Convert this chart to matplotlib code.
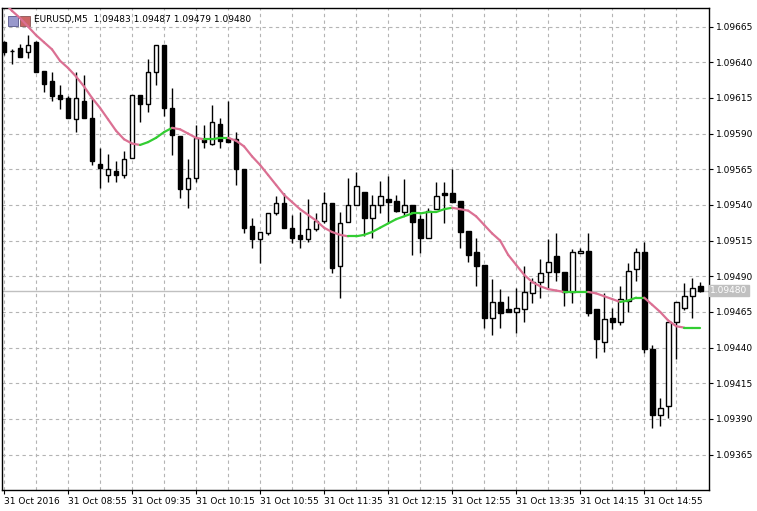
import matplotlib
matplotlib.use("Agg")
import matplotlib.pyplot as plt
import numpy as np

# prices in units of 1e-5 above 1.09000
opens  = [654,648,650,647,654,634,627,617,615,600,613,601,569,561,564,561,573,617,611,633,652,608,588,
          551,559,586,583,597,587,586,565,525,516,520,534,541,524,519,516,523,529,541,497,528,540,549,531,
          540,544,543,535,540,530,517,537,548,548,543,522,507,498,461,472,467,465,467,478,486,493,504,493,
          479,506,508,467,444,461,458,473,495,507,439,393,399,458,468,476,483]
highs  = [655,649,653,659,655,634,633,624,616,633,631,615,580,576,571,578,617,617,642,652,652,622,588,
          572,596,596,610,601,613,591,565,531,521,534,546,548,533,535,544,534,549,541,535,559,563,549,547,
          557,560,547,558,540,533,538,556,556,565,543,522,517,498,488,481,476,482,497,489,502,516,520,493,
          509,510,520,467,478,468,483,499,510,514,442,405,458,472,485,489,486]
lows   = [645,639,644,643,633,619,613,607,601,591,601,568,552,556,556,559,573,598,605,624,602,575,545,
          538,556,580,582,580,584,554,520,510,499,519,533,524,513,510,514,522,527,492,475,528,540,518,517,
          534,528,535,533,505,506,517,537,527,542,510,500,483,454,449,454,465,450,458,471,475,482,487,469,
          471,506,462,433,437,453,456,465,487,436,384,385,391,432,466,461,479]
closes = [647,648,644,652,633,625,616,614,601,615,601,571,566,565,561,572,617,611,633,652,608,589,551,
          559,587,584,598,585,584,565,524,516,521,534,541,524,517,516,523,529,541,496,527,540,553,531,540,
          546,542,536,540,528,517,536,546,547,542,521,505,497,461,472,464,465,468,479,486,492,500,493,479,
          507,508,464,446,460,458,474,494,507,439,393,398,458,472,476,482,480]
ma     = [682,676,671,665,659,654,649,641,636,630,623,615,608,600,592,586,583,582,584,587,591,594,593,
          590,587,586,586,587,587,585,581,574,568,561,554,547,542,537,533,529,524,521,519,518,518,519,521,
          524,527,530,532,534,534,535,535,537,538,537,536,532,526,520,515,505,498,491,486,483,481,480,479,
          479,479,479,478,476,474,472,473,475,475,470,465,459,455,454,454,454]

start_h, start_m = 8, 15
tick_prices = [1.09365 + 0.00025 * i for i in range(13)]

def P(v):
    return 1.09 + np.asarray(v) * 1e-5

O, H, L, C, M = P(opens), P(highs), P(lows), P(closes), P(ma)
n = len(O)
x = np.arange(n)

fig = plt.figure(figsize=(7.57, 5.11), dpi=100)
ax = fig.add_axes([2/757, 21/511, 707/757, 482/511])
ax.set_facecolor("white")

for i in range(n):
    ax.vlines(x[i], L[i], H[i], color="black", lw=1, zorder=3)
    lo, hi = min(O[i], C[i]), max(O[i], C[i])
    face = "white" if C[i] >= O[i] else "black"
    ax.add_patch(plt.Rectangle((x[i] - 0.3, lo), 0.6, max(hi - lo, 0.2e-5),
                               facecolor=face, edgecolor="black", lw=1, zorder=4))

for i in range(n - 1):
    col = "#32CD32" if M[i + 1] >= M[i] else "#DB7093"
    ax.plot(x[i:i + 2], M[i:i + 2], color=col, lw=1.6, zorder=5, solid_capstyle="round")

last = C[-1]
ax.axhline(last, color="#C0C0C0", lw=1, zorder=2)

ax.set_xlim(-0.25, 88.1)
ax.set_ylim(1.093402, 1.09678)
ax.yaxis.tick_right()
ax.set_yticks(tick_prices)
ax.set_yticklabels([f"{p:.5f}" for p in tick_prices], fontsize=6.5)
xt = list(range(0, n, 8))
labels = []
for k in xt:
    if k == 0:
        labels.append("31 Oct 2016")
    else:
        t = start_h * 60 + start_m + 5 * k
        labels.append(f"31 Oct {t // 60:02d}:{t % 60:02d}")
ax.set_xticks(xt)
ax.set_xticklabels(labels, fontsize=6.5, ha="left")
ax.set_xticks(range(4, n, 8), minor=True)
ax.tick_params(axis="both", length=3, width=0.8, color="black", pad=2)
ax.tick_params(axis="x", which="minor", length=0)
ax.grid(True, which="both", axis="x", color="#B4B4B4", ls=(0, (3, 3)), lw=0.8)
ax.grid(True, which="major", axis="y", color="#B4B4B4", ls=(0, (3, 3)), lw=0.8)
ax.set_axisbelow(True)
for s in ax.spines.values():
    s.set_color("black")
    s.set_linewidth(1)

ax.text(1.002, (last - 1.093402) / (1.09678 - 1.093402), f"{last:.5f}", transform=ax.transAxes,
        fontsize=6.5, color="white", va="center", ha="left",
        bbox=dict(facecolor="#C0C0C0", edgecolor="#C0C0C0", pad=1))
ax.text(0.045, 0.985, "EURUSD,M5  1.09483 1.09487 1.09479 1.09480", transform=ax.transAxes,
        fontsize=6.5, va="top", ha="left")
ax.add_patch(plt.Rectangle((0.008, 0.962), 0.014, 0.022, transform=ax.transAxes,
                           facecolor="#9999CC", edgecolor="#555588", lw=0.6))
ax.add_patch(plt.Rectangle((0.025, 0.962), 0.014, 0.022, transform=ax.transAxes,
                           facecolor="#CC6666", edgecolor="#885555", lw=0.6))

fig.savefig("out.png", dpi=100)
